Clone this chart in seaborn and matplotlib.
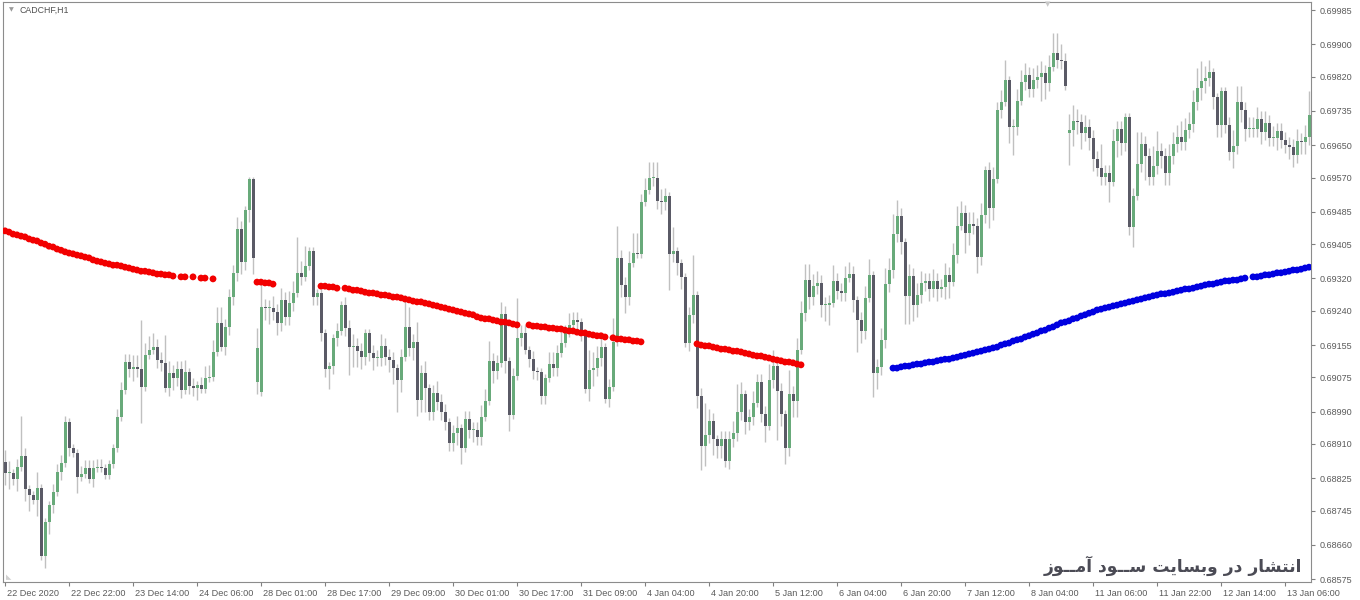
import numpy as np
import pandas as pd
import matplotlib
matplotlib.use("Agg")
import matplotlib.pyplot as plt
import matplotlib.transforms as mtransforms
import seaborn as sns

# ---- data ----
closes = [
    0.68838, 0.68838, 0.68823, 0.68853, 0.68880, 0.68798, 0.68783, 0.68771, 0.68801, 0.68632,
    0.68716, 0.68759, 0.68791, 0.68840, 0.68863, 0.68964, 0.68900, 0.68888, 0.68828, 0.68835,
    0.68850, 0.68823, 0.68850, 0.68853, 0.68850, 0.68833, 0.68860, 0.68900, 0.68977, 0.69044,
    0.69113, 0.69096, 0.69101, 0.69096, 0.69051, 0.69130, 0.69143, 0.69150, 0.69118, 0.69110,
    0.69049, 0.69086, 0.69073, 0.69096, 0.69044, 0.69088, 0.69054, 0.69049, 0.69056, 0.69046,
    0.69073, 0.69076, 0.69138, 0.69210, 0.69150, 0.69200, 0.69274, 0.69334, 0.69443, 0.69361,
    0.69490, 0.69566, 0.69371, 0.69148, 0.69249, 0.69247, 0.69247, 0.69237, 0.69210, 0.69267,
    0.69224, 0.69259, 0.69284, 0.69334, 0.69324, 0.69351, 0.69388, 0.69274, 0.69284, 0.69185,
    0.69096, 0.69103, 0.69172, 0.69190, 0.69254, 0.69197, 0.69150, 0.69153, 0.69140, 0.69125,
    0.69185, 0.69135, 0.69123, 0.69123, 0.69153, 0.69125, 0.69118, 0.69098, 0.69068, 0.69125,
    0.69200, 0.69148, 0.69163, 0.69019, 0.69086, 0.69049, 0.68989, 0.69036, 0.69014, 0.68989,
    0.68964, 0.68912, 0.68937, 0.68949, 0.68900, 0.68972, 0.68944, 0.68944, 0.68927, 0.68977,
    0.69016, 0.69115, 0.69091, 0.69110, 0.69232, 0.69115, 0.68982, 0.69078, 0.69172, 0.69185,
    0.69143, 0.69120, 0.69091, 0.69088, 0.69029, 0.69073, 0.69108, 0.69098, 0.69135, 0.69160,
    0.69185, 0.69205, 0.69217, 0.69212, 0.69185, 0.69046, 0.69093, 0.69098, 0.69123, 0.69150,
    0.69021, 0.69051, 0.69163, 0.69371, 0.69304, 0.69274, 0.69358, 0.69383, 0.69381, 0.69509,
    0.69539, 0.69569, 0.69569, 0.69512, 0.69509, 0.69524, 0.69381, 0.69388, 0.69358, 0.69324,
    0.69160, 0.69229, 0.69279, 0.69029, 0.68905, 0.68932, 0.68967, 0.68922, 0.68905, 0.68922,
    0.68868, 0.68922, 0.68937, 0.68989, 0.69034, 0.68964, 0.68977, 0.69011, 0.69063, 0.68984,
    0.68954, 0.69068, 0.69103, 0.69041, 0.68984, 0.68900, 0.69034, 0.69016, 0.69143, 0.69234,
    0.69316, 0.69274, 0.69301, 0.69309, 0.69254, 0.69254, 0.69259, 0.69314, 0.69289, 0.69284,
    0.69321, 0.69331, 0.69267, 0.69217, 0.69190, 0.69272, 0.69329, 0.69086, 0.69101, 0.69168,
    0.69306, 0.69341, 0.69430, 0.69475, 0.69410, 0.69277, 0.69326, 0.69254, 0.69279, 0.69309,
    0.69314, 0.69294, 0.69314, 0.69294, 0.69299, 0.69329, 0.69311, 0.69378, 0.69450, 0.69482,
    0.69433, 0.69455, 0.69450, 0.69373, 0.69477, 0.69589, 0.69495, 0.69566, 0.69737, 0.69757,
    0.69812, 0.69695, 0.69695, 0.69760, 0.69807, 0.69824, 0.69790, 0.69812, 0.69819, 0.69829,
    0.69804, 0.69844, 0.69879, 0.69861, 0.69859, 0.69797, 0.69688, 0.69710, 0.69708, 0.69681,
    0.69695, 0.69668, 0.69616, 0.69594, 0.69571, 0.69581, 0.69559, 0.69661, 0.69690, 0.69656,
    0.69720, 0.69448, 0.69524, 0.69604, 0.69653, 0.69623, 0.69571, 0.69599, 0.69636, 0.69623,
    0.69581, 0.69623, 0.69653, 0.69671, 0.69658, 0.69688, 0.69703, 0.69757, 0.69792, 0.69809,
    0.69817, 0.69832, 0.69770, 0.69700, 0.69785, 0.69700, 0.69633, 0.69648, 0.69757, 0.69737,
    0.69690, 0.69690, 0.69690, 0.69715, 0.69683, 0.69705, 0.69668, 0.69668, 0.69685, 0.69663,
    0.69651, 0.69646, 0.69626, 0.69661, 0.69658, 0.69671, 0.69725,
]

# bars whose open is not the previous close (first bar, weekend gaps)
gap_opens = {0: 0.68865, 63: 0.69063, 64: 0.69039, 266: 0.69681}

# wick lengths beyond the body, in pips
wick_hi = [
    3, 3, 1, 2, 10, 2, 1, 1, 4, 1,  1, 1, 2, 2, 2, 1.5, 1, 1, 1, 2,
    2, 2, 2, 2, 2, 1, 1, 1, 2, 2,  2, 2, 3, 3, 12, 3, 3.5, 3.5, 2, 2,
    7, 3, 2, 2, 2, 3, 1, 2, 1, 2,  3, 3, 3, 4, 4, 2, 2, 2, 3, 2,
    1, 0.5, 0.5, 5, 6, 2, 2, 3, 2, 3,  2, 3, 3, 9, 3, 5, 1, 1, 1, 1,
    1, 1, 1, 2, 1, 2, 2, 3, 2, 2,  1, 1, 2, 2, 3, 2, 2, 2, 1, 2,
    8, 5, 2, 5, 2, 3, 1, 2, 3, 2,  2, 1, 2, 3, 1, 2, 2, 2, 2, 3,
    3, 5, 2, 2, 3, 2, 1, 2, 10, 2,  2, 1, 2, 1, 1, 1, 3, 3, 2, 4,
    2, 3, 2, 2, 1, 1, 5, 4, 3, 3,  1, 2, 6, 8, 2, 2, 3, 5, 5, 2,
    3, 4, 4, 4, 3, 2, 1, 6, 1, 1,  1, 2, 10, 1, 2, 8, 3, 2, 1, 2,
    2, 2, 3, 7, 3, 1, 2, 3, 2, 2,  2, 4, 4, 1, 2, 1, 6, 2, 3, 3,
    4, 4, 3, 3, 2, 2, 2, 4, 2, 2,  3, 3, 2, 1, 2, 3, 4, 1, 2, 3,
    4, 3, 5, 4, 2, 1, 3, 2, 3, 3,  2, 2, 3, 2, 2, 3, 2, 3, 5, 3,
    2, 3, 3, 2, 3, 1, 2, 3, 2, 3,  5, 1, 2, 3, 3, 3, 2, 3, 3, 3,
    2, 3, 5, 5, 4, 2, 4, 4, 3, 2,  3, 2, 2, 2, 6, 2, 2, 3, 2, 2,
    1, 1, 2, 8, 3, 2, 2, 5, 5, 2,  2, 3, 3, 3, 4, 3, 3, 3, 5, 5,
    3, 3, 1, 1, 1, 1, 2, 4, 4, 4,  2, 3, 3, 3, 2, 3, 2, 3, 2, 2,
    2, 2, 2, 3, 2, 3, 6,
]
wick_lo = [
    3, 4, 1.5, 3, 1, 3, 4, 1, 4, 1,  3, 3, 2, 1, 2, 1, 2, 1, 4, 1,
    1, 1, 2, 1, 1, 1, 1, 1, 1, 1,  1, 2, 3, 2, 9, 1, 1, 1, 2, 2,
    1, 2, 3, 2, 2, 1, 2, 2, 3, 1,  1, 1, 1, 1, 1, 2, 2, 2, 2, 3,
    2, 3, 4, 3, 1, 3, 4, 2, 3, 2,  2, 2, 2, 1, 2, 1, 1, 2, 2, 2,
    2, 5, 2, 2, 1, 2, 7, 5, 4, 3,  2, 2, 3, 2, 2, 2, 3, 4, 8, 3,
    1, 2, 3, 4, 3, 6, 2, 2, 2, 2,  2, 2, 2, 3, 4, 1, 2, 3, 2, 2,
    1, 1, 3, 2, 1, 3, 4, 1, 1, 2,  1, 2, 2, 2, 2, 2, 1, 2, 2, 1,
    1, 1, 1, 2, 2, 1, 3, 4, 2, 2,  1, 2, 1, 1, 3, 4, 2, 1, 1, 1,
    1, 1, 2, 2, 3, 2, 9, 2, 3, 3,  1, 2, 2, 3, 6, 5, 2, 4, 3, 3,
    1.5, 2, 2, 2, 2, 3, 2, 2, 1, 2,  4, 1, 2, 12, 3, 4, 2, 4, 4, 1,
    2, 3, 2, 2, 3, 4, 5, 1, 2, 2,  2, 1, 3, 8, 3, 2, 1, 6, 4, 2,
    2, 2, 2, 2, 3, 7, 7, 4, 3, 2,  2, 3, 2, 3, 2, 3, 4, 1, 2, 1,
    5, 3, 2, 4, 2, 2, 5, 3, 1, 2,  1, 4, 7, 2, 1, 2, 2, 2, 2, 6,
    4, 2, 1, 2, 2, 1, 8, 4, 3, 4,  2, 3, 3, 2, 2, 2, 5, 1, 4, 3,
    2, 2, 5, 1, 2, 6, 2, 2, 2, 3,  3, 3, 2, 2, 2, 2, 2, 2, 2, 3,
    3, 2, 3, 3, 3, 2, 2, 4, 2, 3,  3, 2, 2, 2, 3, 2, 2, 2, 3, 2,
    2, 3, 3, 2, 3, 3, 2,
]

# moving-average dots: (first bar, trend, values); bars without a dot are left out
ma_runs = [
    (0, "down", [0.69438, 0.69435, 0.69430, 0.69428, 0.69425, 0.69423, 0.69418, 0.69415, 0.69413, 0.69408,
                 0.69405, 0.69400, 0.69398, 0.69393, 0.69390, 0.69386, 0.69383, 0.69381, 0.69378, 0.69376,
                 0.69373, 0.69371, 0.69366, 0.69363, 0.69361, 0.69358, 0.69356, 0.69353, 0.69353, 0.69351,
                 0.69348, 0.69346, 0.69343, 0.69341, 0.69338, 0.69338, 0.69336, 0.69334, 0.69331, 0.69331,
                 0.69329, 0.69329, 0.69326]),
    (44, "down", [0.69324, 0.69324]),
    (47, "down", [0.69324]),
    (49, "down", [0.69321, 0.69321]),
    (52, "down", [0.69319]),
    (63, "down", [0.69311, 0.69311, 0.69309, 0.69309, 0.69306]),
    (79, "down", [0.69301, 0.69301, 0.69299, 0.69299, 0.69296]),
    (85, "down", [0.69296, 0.69294, 0.69291, 0.69291, 0.69289, 0.69286, 0.69284, 0.69284, 0.69282, 0.69279,
                  0.69279, 0.69277, 0.69274, 0.69274, 0.69272, 0.69269, 0.69267, 0.69264, 0.69262, 0.69262,
                  0.69259, 0.69257, 0.69254, 0.69252, 0.69249, 0.69247, 0.69244, 0.69242, 0.69239, 0.69237,
                  0.69234, 0.69232, 0.69230, 0.69225, 0.69222, 0.69220, 0.69220, 0.69217, 0.69215, 0.69212,
                  0.69212, 0.69210, 0.69207, 0.69205]),
    (131, "down", [0.69205, 0.69202, 0.69202, 0.69200, 0.69200, 0.69197, 0.69197, 0.69195, 0.69195, 0.69192,
                   0.69190, 0.69190, 0.69187, 0.69185, 0.69185, 0.69182, 0.69180, 0.69178, 0.69178, 0.69175]),
    (152, "down", [0.69173, 0.69170, 0.69170, 0.69168, 0.69168, 0.69165, 0.69165, 0.69163]),
    (173, "down", [0.69158, 0.69155, 0.69153, 0.69153, 0.69150, 0.69148, 0.69145, 0.69145, 0.69143, 0.69140,
                   0.69140, 0.69138, 0.69135, 0.69133, 0.69130, 0.69128, 0.69128, 0.69125, 0.69123, 0.69120,
                   0.69118, 0.69116, 0.69113, 0.69113, 0.69111, 0.69108, 0.69106]),
    (222, "up", [0.69098, 0.69098, 0.69101, 0.69103, 0.69103, 0.69106, 0.69108, 0.69108, 0.69111, 0.69113,
                 0.69113, 0.69116, 0.69118, 0.69120, 0.69120, 0.69123, 0.69125, 0.69128, 0.69130, 0.69133,
                 0.69135, 0.69138, 0.69140, 0.69143, 0.69145, 0.69148, 0.69150, 0.69155, 0.69158, 0.69160,
                 0.69165, 0.69168, 0.69170, 0.69175, 0.69178, 0.69182, 0.69185, 0.69190, 0.69192, 0.69197,
                 0.69200, 0.69205, 0.69210, 0.69212, 0.69215, 0.69220, 0.69222, 0.69227, 0.69230, 0.69234,
                 0.69237, 0.69242, 0.69244, 0.69247, 0.69249, 0.69252, 0.69254, 0.69257, 0.69259, 0.69262,
                 0.69264, 0.69267, 0.69269, 0.69272, 0.69274, 0.69277, 0.69279, 0.69282, 0.69282, 0.69284,
                 0.69286, 0.69289, 0.69291, 0.69294, 0.69294, 0.69296, 0.69299, 0.69301, 0.69304, 0.69306,
                 0.69306, 0.69309, 0.69311, 0.69314, 0.69314, 0.69316, 0.69316, 0.69319, 0.69321]),
    (312, "up", [0.69324, 0.69324, 0.69326, 0.69329, 0.69329, 0.69331, 0.69334, 0.69334, 0.69336, 0.69338,
                 0.69341, 0.69341, 0.69343, 0.69346, 0.69348]),
]

price_ticks = [0.69985, 0.69900, 0.69820, 0.69735, 0.69650, 0.69570, 0.69485, 0.69405, 0.69320,
               0.69240, 0.69155, 0.69075, 0.68990, 0.68910, 0.68825, 0.68745, 0.68660, 0.68575]
time_labels = ["22 Dec 2020", "22 Dec 22:00", "23 Dec 14:00", "24 Dec 06:00", "28 Dec 01:00",
               "28 Dec 17:00", "29 Dec 09:00", "30 Dec 01:00", "30 Dec 17:00", "31 Dec 09:00",
               "4 Jan 04:00", "4 Jan 20:00", "5 Jan 12:00", "6 Jan 04:00", "6 Jan 20:00",
               "7 Jan 12:00", "8 Jan 04:00", "11 Jan 06:00", "11 Jan 22:00", "12 Jan 14:00",
               "13 Jan 06:00"]
symbol = "CADCHF,H1"
watermark = "انتشار در وبسایت ســود آمــوز"

# ---- simple Persian shaping (matplotlib has no text shaper) ----
FORMS = {  # isolated, final, initial, medial
    "ا": ("\uFE8D", "\uFE8E", None, None), "آ": ("\uFE81", "\uFE82", None, None),
    "ب": ("\uFE8F", "\uFE90", "\uFE91", "\uFE92"), "ت": ("\uFE95", "\uFE96", "\uFE97", "\uFE98"),
    "د": ("\uFEA9", "\uFEAA", None, None), "ر": ("\uFEAD", "\uFEAE", None, None),
    "ز": ("\uFEAF", "\uFEB0", None, None), "س": ("\uFEB1", "\uFEB2", "\uFEB3", "\uFEB4"),
    "ش": ("\uFEB5", "\uFEB6", "\uFEB7", "\uFEB8"), "م": ("\uFEE1", "\uFEE2", "\uFEE3", "\uFEE4"),
    "ن": ("\uFEE5", "\uFEE6", "\uFEE7", "\uFEE8"), "و": ("\uFEED", "\uFEEE", None, None),
    "ی": ("\uFBFC", "\uFBFD", "\uFBFE", "\uFBFF"), "ـ": ("\u0640",) * 4,
}


def shape_fa(text):
    out = []
    for k, ch in enumerate(text):
        f = FORMS.get(ch)
        if f is None:
            out.append(ch)
            continue
        prev = FORMS.get(text[k - 1]) if k > 0 else None
        nxt = FORMS.get(text[k + 1]) if k + 1 < len(text) else None
        jp = prev is not None and prev[2] is not None
        jn = nxt is not None and f[2] is not None
        out.append(f[3] if jp and jn else f[1] if jp else f[2] if jn else f[0])
    return "".join(reversed(out))


# ---- build OHLC table ----
n = len(closes)
opens = [gap_opens.get(i, closes[i - 1] if i > 0 else closes[0]) for i in range(n)]
df = pd.DataFrame({"bar": np.arange(n), "open": opens, "close": closes,
                   "up": wick_hi, "dn": wick_lo})
df["top"] = df[["open", "close"]].max(axis=1)
df["bot"] = df[["open", "close"]].min(axis=1)
df["high"] = df["top"] + df["up"] * 0.0001
df["low"] = df["bot"] - df["dn"] * 0.0001
df["bull"] = df["close"] >= df["open"]

ma = pd.DataFrame([(start + k, trend, v) for start, trend, vals in ma_runs
                   for k, v in enumerate(vals)], columns=["bar", "trend", "ma"])

sns.set_style("white")
plt.rcParams["font.family"] = ["Liberation Sans", "DejaVu Sans"]

fig = plt.figure(figsize=(13.6, 6), dpi=100)
ax = fig.add_axes([3 / 1360, 18 / 600, 1308 / 1360, 580 / 600])

bull_c, bear_c, wick_c = "#68aa7a", "#5a5a66", "#c0c0c0"
ax.vlines(df["bar"], df["low"], df["high"], color=wick_c, lw=1, zorder=1)
body = (df["top"] - df["bot"]).clip(lower=0.00002)
ax.bar(df["bar"], body, bottom=df["bot"], width=0.75,
       color=np.where(df["bull"], bull_c, bear_c), linewidth=0, zorder=2)

sns.scatterplot(data=ma, x="bar", y="ma", hue="trend",
                palette={"down": "#f20000", "up": "#0000e0"},
                s=24, linewidth=0, legend=False, ax=ax, zorder=3)

ax.set_xlim(-0.5, n - 0.5)
ax.set_ylim(0.68568, 0.70005)
ax.set_xlabel("")
ax.set_ylabel("")

# right-hand price scale
ax.yaxis.tick_right()
ax.set_yticks(price_ticks)
ax.set_yticklabels([f"{p:.5f}" for p in price_ticks])
ax.tick_params(axis="y", right=True, direction="out", length=3, width=0.8,
               color="#808080", labelsize=6.5, labelcolor="#5a5a5a", pad=3)

# time scale, every 16 bars, labels to the right of the tick
ax.set_xticks(np.arange(len(time_labels)) * 16)
ax.set_xticklabels(time_labels)
ax.tick_params(axis="x", bottom=True, direction="out", length=3, width=0.8,
               color="#808080", labelsize=6.6, labelcolor="#5a5a5a", pad=2)
shift = mtransforms.ScaledTranslation(2 / 100, 0, fig.dpi_scale_trans)
for lab in ax.get_xticklabels():
    lab.set_horizontalalignment("left")
    lab.set_transform(lab.get_transform() + shift)

for sp in ax.spines.values():
    sp.set_color("#8c8c8c")
    sp.set_linewidth(0.8)

# chart caption and markers
fig.text(9 / 1360, 1 - 10 / 600, "\u25BC", fontsize=4.5, color="#9a9a9a",
         ha="left", va="center", family="DejaVu Sans")
fig.text(20 / 1360, 1 - 10 / 600, symbol, fontsize=6.3, color="#505050", ha="left", va="center")
fig.text(1048 / 1360, 1 - 4 / 600, "\u25BC", fontsize=5, color="#c8c8c8",
         ha="center", va="center", family="DejaVu Sans")
fig.text(6 / 1360, 1 - 577 / 600, "\u25E3", fontsize=5, color="#d0d0d0",
         ha="left", va="center", family="DejaVu Sans")

fig.text(1302 / 1360, 1 - 566 / 600, shape_fa(watermark), fontsize=12.3, fontweight="bold",
         color="#4b4b55", ha="right", va="center", family=["DejaVu Sans"])

fig.savefig("out.png", dpi=100, facecolor="white")
